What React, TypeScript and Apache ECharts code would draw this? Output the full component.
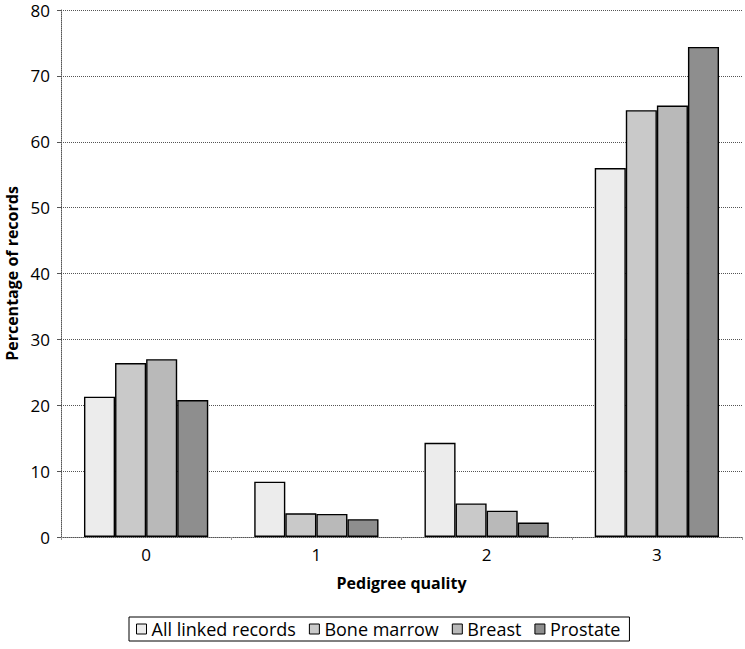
import React, { useEffect, useRef } from "react";
import * as echarts from "echarts";

const categories = ["0", "1", "2", "3"];
const seriesNames = ["All linked records", "Bone marrow", "Breast", "Prostate"];
const allLinked = [21.3, 8.4, 14.3, 56.0];
const boneMarrow = [26.4, 3.6, 5.1, 64.8];
const breast = [27.0, 3.5, 4.0, 65.5];
const prostate = [20.8, 2.7, 2.2, 74.4];
const seriesValues = [allLinked, boneMarrow, breast, prostate];
const colors = ["#ececec", "#c9c9c9", "#b9b9b9", "#8e8e8e"];

const FONT = "'Open Sans', 'Liberation Sans', sans-serif";

export default function App() {
  const ref = useRef<HTMLDivElement>(null);
  useEffect(() => {
    if (!ref.current) return;
    const chart = echarts.init(ref.current, null, { renderer: "svg" });
    chart.setOption({
      animation: false,
      backgroundColor: "#ffffff",
      grid: { left: 61, right: 3, top: 10, bottom: 112, containLabel: false, outerBoundsMode: "none" },
      legend: {
        data: seriesNames,
        left: 129,
        top: 617,
        itemWidth: 10,
        itemHeight: 10,
        itemGap: 13,
        padding: [3, 9, 3, 7],
        borderColor: "#000",
        borderWidth: 1,
        icon: "rect",
        textStyle: { fontFamily: FONT, fontSize: 18, color: "#000", padding: [0, 0, 0, 0] },
        itemStyle: { borderColor: "#000", borderWidth: 1 },
      },
      xAxis: {
        type: "category",
        data: categories,
        name: "Pedigree quality",
        nameLocation: "middle",
        nameGap: 38,
        nameTextStyle: { fontFamily: FONT, fontSize: 16, fontWeight: "bold", color: "#000" },
        axisLine: { show: true, lineStyle: { color: "#555", type: "dotted", width: 1 } },
        axisTick: { show: true, length: 3, lineStyle: { color: "#999" } },
        axisLabel: { fontFamily: FONT, fontSize: 17, color: "#000", margin: 9 },
      },
      yAxis: {
        type: "value",
        min: 0,
        max: 80,
        interval: 10,
        name: "Percentage of records",
        nameLocation: "middle",
        nameGap: 40,
        nameTextStyle: { fontFamily: FONT, fontSize: 16, fontWeight: "bold", color: "#000" },
        axisLine: { show: true, lineStyle: { color: "#555", type: "dotted", width: 1 } },
        axisTick: { show: true, length: 4, lineStyle: { color: "#555" } },
        axisLabel: { fontFamily: FONT, fontSize: 17, lineHeight: 18, color: "#000", margin: 11 },
        splitLine: { show: true, lineStyle: { color: "#555", type: "dotted", width: 1 } },
      },
      series: seriesNames.map((name, i) => ({
        name,
        type: "bar",
        data: seriesValues[i],
        barGap: "0%",
        barCategoryGap: "27%",
        itemStyle: {
          color: colors[i],
          borderColor: "#000",
          borderWidth: 1.4,
        },
      })),
    });
    return () => chart.dispose();
  }, []);
  return <div ref={ref} style={{ width: 745, height: 649, position: "absolute", left: 0, top: 0 }} />;
}
